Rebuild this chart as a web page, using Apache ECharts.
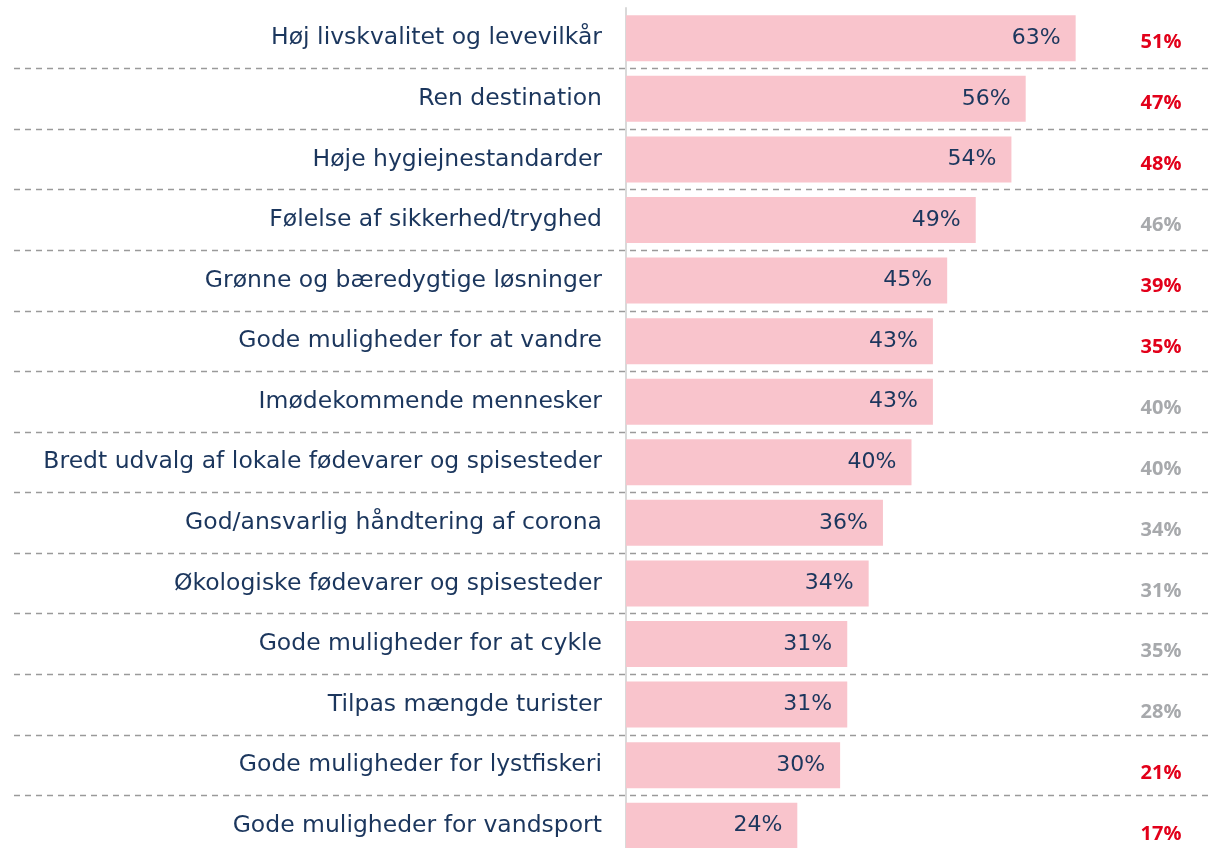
<!DOCTYPE html>
<html>
	<head>
		<meta charset="UTF-8">
		<title>Vigtige faktorer</title>
		<script src="https://cdn.jsdelivr.net/npm/echarts@6/dist/echarts.min.js"></script>
		<style>
			html, body { margin: 0; padding: 0; background: #fff; }
		</style>
	</head>
	<body>
		<div id="main" style="width: 1209px;height:848px;"></div>
	</body>
<script>
    // kategorier (top til bund)
    var categories = [
        'Høj livskvalitet og levevilkår',
        'Ren destination',
        'Høje hygiejnestandarder',
        'Følelse af sikkerhed/tryghed',
        'Grønne og bæredygtige løsninger',
        'Gode muligheder for at vandre',
        'Imødekommende mennesker',
        'Bredt udvalg af lokale fødevarer og spisesteder',
        'God/ansvarlig håndtering af corona',
        'Økologiske fødevarer og spisesteder',
        'Gode muligheder for at cykle',
        'Tilpas mængde turister',
        'Gode muligheder for lystfiskeri',
        'Gode muligheder for vandsport'
    ];
    // søjleværdier i procent
    var values = [63, 56, 54, 49, 45, 43, 43, 40, 36, 34, 31, 31, 30, 24];
    // sammenligningstal i højre kolonne
    var compare = [51, 47, 48, 46, 39, 35, 40, 40, 34, 31, 35, 28, 21, 17];
    // 1 = rød (markeret), 0 = grå
    var highlight = [1, 1, 1, 0, 1, 1, 0, 0, 0, 0, 0, 0, 1, 1];

    var navy = '#1b365d';
    var labelFont = '"DejaVu Sans", sans-serif';
    var boldFont = '"Open Sans", "Noto Sans", sans-serif';

    var option = {
        animation: false,
        grid: [
            // kun de stiplede skillelinjer
            {left: 14, right: 0, top: 8, height: 848, outerBoundsMode: 'none'},
            // selve søjlerne
            {left: 626, width: 571, top: 8, height: 848, outerBoundsMode: 'none'},
            // højre kolonne
            {left: 1161, width: 10, top: 12, height: 853, outerBoundsMode: 'none'}
        ],
        xAxis: [
            {gridIndex: 0, type: 'value', min: 0, max: 1, show: false},
            {gridIndex: 1, type: 'value', min: 0, max: 80, show: false},
            {gridIndex: 2, type: 'value', min: 0, max: 1, show: false}
        ],
        yAxis: [
            {
                gridIndex: 0,
                type: 'category',
                inverse: true,
                data: categories,
                axisLine: {show: false},
                axisTick: {show: false},
                axisLabel: {show: false},
                splitLine: {
                    show: true,
                    // ingen linje over første række
                    interval: function (i) { return i > 0; },
                    lineStyle: {color: '#9a9a9a', type: [6, 5], width: 1.3}
                }
            },
            {
                gridIndex: 1,
                type: 'category',
                inverse: true,
                data: categories,
                axisLine: {show: true, lineStyle: {color: '#d9d9d9', width: 2}},
                axisTick: {show: false},
                axisLabel: {
                    margin: 24,
                    color: navy,
                    fontSize: 23.5,
                    fontFamily: labelFont
                }
            },
            {
                gridIndex: 2,
                type: 'category',
                inverse: true,
                data: categories,
                axisLine: {show: false},
                axisTick: {show: false},
                axisLabel: {
                    margin: 0,
                    align: 'center',
                    formatter: function (v, i) {
                        return (highlight[i] ? '{r|' : '{g|') + compare[i] + '%}';
                    },
                    rich: {
                        r: {color: '#e2001a', fontSize: 20, fontWeight: 'bold', fontFamily: boldFont},
                        g: {color: '#a7a9ac', fontSize: 20, fontWeight: 'bold', fontFamily: boldFont}
                    }
                }
            }
        ],
        series: [
            {
                type: 'bar',
                xAxisIndex: 1,
                yAxisIndex: 1,
                data: values,
                barWidth: 46,
                itemStyle: {color: '#f9c4cc'},
                label: {
                    show: true,
                    position: 'insideRight',
                    distance: 15,
                    color: navy,
                    fontSize: 22,
                    fontFamily: labelFont,
                    formatter: '{c}%'
                }
            }
        ]
    };

    var myChart = echarts.init(document.getElementById('main'));
    myChart.setOption(option);
</script>
</html>
